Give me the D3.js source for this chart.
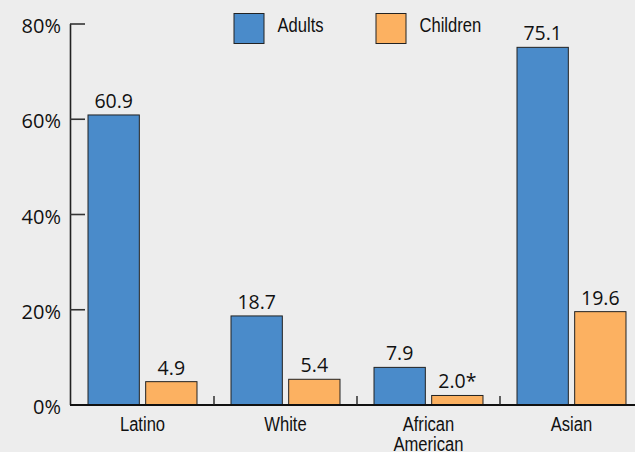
<!DOCTYPE html>
<html><head><meta charset="utf-8">
<script src="https://cdn.jsdelivr.net/npm/d3@7"></script>
<style>
html,body{margin:0;padding:0;background:#ededed;}
svg{display:block;}
</style></head>
<body>
<script>
const categories = ["Latino", "White", "African American", "Asian"];
const series = ["Adults", "Children"];
const adults = [60.9, 18.7, 7.9, 75.1];
const children = [4.9, 5.4, 2.0, 19.6];
const valueLabels = {Adults: ["60.9", "18.7", "7.9", "75.1"], Children: ["4.9", "5.4", "2.0*", "19.6"]};
const yTicks = [0, 20, 40, 60, 80];
const colors = {Adults: "#4a8bca", Children: "#fcb161"};

const W = 635, H = 452;
const svg = d3.select("body").append("svg").attr("width", W).attr("height", H);
svg.append("rect").attr("width", W).attr("height", H).attr("fill", "#ededed");

const y = d3.scaleLinear().domain([0, 80]).range([405, 24]);
const x0 = d3.scaleBand().domain(categories).range([71, 643]).padding(0);
const x1 = d3.scaleBand().domain(series).range([0, x0.bandwidth()]).paddingInner(0.11).paddingOuter(0.295);

const data = categories.map((c, i) => ({cat: c, vals: [
  {s: "Adults", v: adults[i], label: valueLabels.Adults[i]},
  {s: "Children", v: children[i], label: valueLabels.Children[i]}
]}));

const numFont = "'Open Sans', sans-serif";
const catFont = "'Liberation Sans', Arial, sans-serif";
const narrow = 0.79;

// Y axis
const yAxisG = svg.append("g");
yAxisG.append("line").attr("x1", 70.5).attr("x2", 70.5).attr("y1", y(80)).attr("y2", y(0))
  .attr("stroke", "#222").attr("stroke-width", 1.6);
yAxisG.selectAll(".yt").data(yTicks.filter(d => d > 0)).join("line")
  .attr("x1", 70).attr("x2", 85).attr("y1", d => y(d)).attr("y2", d => y(d))
  .attr("stroke", "#333").attr("stroke-width", 1.6);
yAxisG.selectAll(".yl").data(yTicks).join("text")
  .attr("x", 61).attr("y", d => y(d) + 9)
  .attr("text-anchor", "end").attr("font-family", numFont).attr("font-size", 20)
  .attr("fill", "#111").text(d => d + "%");

// Bars
const g = svg.selectAll(".cat").data(data).join("g").attr("transform", d => `translate(${x0(d.cat)},0)`);
g.selectAll("rect").data(d => d.vals).join("rect")
  .attr("x", d => x1(d.s)).attr("width", x1.bandwidth())
  .attr("y", d => y(d.v)).attr("height", d => y(0) - y(d.v))
  .attr("fill", d => colors[d.s]).attr("stroke", "#222").attr("stroke-width", 1);
g.selectAll("text").data(d => d.vals).join("text")
  .attr("x", d => x1(d.s) + x1.bandwidth() / 2).attr("y", d => y(d.v) - 7)
  .attr("text-anchor", "middle").attr("font-family", numFont).attr("font-size", 19.5)
  .attr("fill", "#111").text(d => d.label);

// X axis
svg.append("line").attr("x1", 70).attr("x2", W).attr("y1", 405).attr("y2", 405)
  .attr("stroke", "#111").attr("stroke-width", 2.2);
svg.selectAll(".xt").data(categories.slice(1)).join("line")
  .attr("x1", d => x0(d)).attr("x2", d => x0(d)).attr("y1", 396).attr("y2", 405)
  .attr("stroke", "#222").attr("stroke-width", 1.4);
const catLabels = svg.selectAll(".cl").data(categories).join("text")
  .attr("transform", d => `translate(${x0(d) + x0.bandwidth() / 2},430.5) scale(${narrow},1)`)
  .attr("text-anchor", "middle").attr("font-family", catFont).attr("font-size", 21)
  .attr("fill", "#111");
catLabels.each(function(d) {
  const words = d === "African American" ? ["African", "American"] : [d];
  const t = d3.select(this);
  words.forEach((w, i) => {
    t.append("tspan").attr("x", 0).attr("dy", i === 0 ? 0 : 21).text(w);
  });
});

// Legend
const legend = svg.selectAll(".lg").data(series).join("g")
  .attr("transform", (d, i) => `translate(${234 + i * 142},13.5)`);
legend.append("rect").attr("width", 30).attr("height", 30)
  .attr("fill", d => colors[d]).attr("stroke", "#222").attr("stroke-width", 1);
legend.append("text").attr("transform", `translate(43.5,18.5) scale(${narrow},1)`)
  .attr("font-family", catFont).attr("font-size", 21).attr("fill", "#111").text(d => d);
</script>
</body></html>
